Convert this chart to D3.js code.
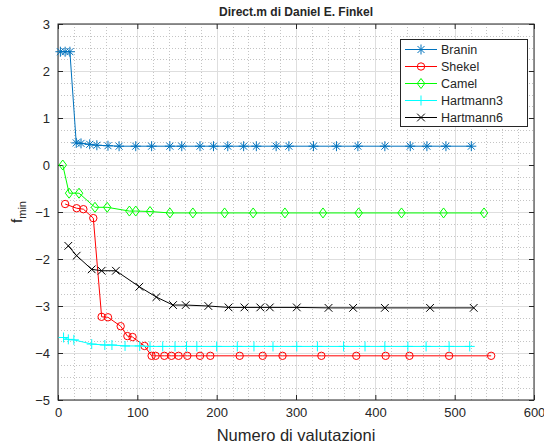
<!DOCTYPE html>
<html>
<head>
<meta charset="utf-8">
<script src="https://cdn.jsdelivr.net/npm/d3@7"></script>
<style>
  body { margin: 0; background: #fff; }
  text { font-family: "Liberation Sans", Arial, Helvetica, sans-serif; fill: #262626; }
</style>
</head>
<body>
<div id="chart"></div>
<script>
// data (best value found vs number of evaluations)
var braninX = [3, 9, 15, 23, 29, 40, 49, 63, 77, 98, 118, 141, 156, 179, 196, 214, 234, 250, 275, 291, 322, 351, 378, 412, 444, 465, 489, 521];
var braninY = [2.41, 2.41, 2.41, 0.47, 0.46, 0.44, 0.42, 0.41, 0.40, 0.40, 0.40, 0.40, 0.40, 0.40, 0.40, 0.40, 0.40, 0.40, 0.40, 0.40, 0.40, 0.40, 0.40, 0.40, 0.40, 0.40, 0.40, 0.40];

var shekelX = [9, 23.5, 32, 44.5, 55, 63, 79, 87.5, 94, 109, 118, 123, 134, 143, 152, 163, 179, 192, 229, 258, 283, 332, 376, 413, 443, 493, 546];
var shekelY = [-0.83, -0.92, -0.94, -1.13, -3.23, -3.24, -3.43, -3.64, -3.66, -3.85, -4.06, -4.06, -4.06, -4.06, -4.06, -4.06, -4.06, -4.06, -4.06, -4.06, -4.06, -4.06, -4.06, -4.06, -4.06, -4.06, -4.06];

var camelX = [6, 14, 26.5, 46.6, 62, 90, 98, 116, 141, 170, 210, 246, 286, 334, 379, 433, 486, 537];
var camelY = [0.0, -0.60, -0.60, -0.90, -0.90, -0.98, -0.98, -0.99, -1.02, -1.02, -1.02, -1.02, -1.02, -1.02, -1.02, -1.02, -1.02, -1.02];

var hart3X = [7, 13, 20, 42.5, 59, 68, 84.5, 103, 116, 132, 147.5, 162, 175, 200, 226, 247, 271, 301, 327, 360, 387, 412, 441, 464, 493, 519];
var hart3Y = [-3.67, -3.71, -3.72, -3.81, -3.83, -3.83, -3.85, -3.85, -3.86, -3.86, -3.86, -3.86, -3.86, -3.86, -3.86, -3.86, -3.86, -3.86, -3.86, -3.86, -3.86, -3.86, -3.86, -3.86, -3.86, -3.86];

var hart6X = [13, 23.5, 42.5, 55, 73, 102.5, 124, 145, 161, 189.5, 215, 235, 255, 267, 301, 341, 372, 412, 469, 524];
var hart6Y = [-1.72, -1.93, -2.22, -2.25, -2.25, -2.59, -2.81, -2.98, -2.98, -3.00, -3.03, -3.03, -3.03, -3.03, -3.03, -3.04, -3.04, -3.04, -3.04, -3.04];

var seriesNames = ["Branin", "Shekel", "Camel", "Hartmann3", "Hartmann6"];
var xTicks = [0, 100, 200, 300, 400, 500, 600];
var yTicks = [-5, -4, -3, -2, -1, 0, 1, 2, 3];

var width = 544;
var height = 448;

// plot box (names avoid window.top etc.)
var boxLeft = 58, boxRight = 534, boxTop = 24, boxBottom = 400;

var svg = d3.select("#chart")
  .append("svg")
  .attr("width", width)
  .attr("height", height);

var xScale = d3.scaleLinear().domain([0, 600]).range([boxLeft, boxRight]);
var yScale = d3.scaleLinear().domain([-5, 3]).range([boxBottom, boxTop]);

// minor grid (dotted)
var minorX = d3.range(20, 600, 20).filter(function(v) { return v % 100 !== 0; });
var minorY = d3.range(-5, 3, 0.25).filter(function(v) { return v % 1 !== 0; });

var grid = svg.append("g").attr("class", "grid");
grid.selectAll("line.mx").data(minorX).enter().append("line")
  .attr("x1", function(d) { return Math.round(xScale(d)) + 0.5; })
  .attr("x2", function(d) { return Math.round(xScale(d)) + 0.5; })
  .attr("y1", boxTop).attr("y2", boxBottom)
  .attr("stroke", "#c4c4c4").attr("stroke-dasharray", "1,2");
grid.selectAll("line.my").data(minorY).enter().append("line")
  .attr("y1", function(d) { return Math.round(yScale(d)) + 0.5; })
  .attr("y2", function(d) { return Math.round(yScale(d)) + 0.5; })
  .attr("x1", boxLeft).attr("x2", boxRight)
  .attr("stroke", "#c4c4c4").attr("stroke-dasharray", "1,2");

// major grid
grid.selectAll("line.gx").data(xTicks).enter().append("line")
  .attr("x1", function(d) { return Math.round(xScale(d)) + 0.5; })
  .attr("x2", function(d) { return Math.round(xScale(d)) + 0.5; })
  .attr("y1", boxTop).attr("y2", boxBottom)
  .attr("stroke", "#dedede");
grid.selectAll("line.gy").data(yTicks).enter().append("line")
  .attr("y1", function(d) { return Math.round(yScale(d)) + 0.5; })
  .attr("y2", function(d) { return Math.round(yScale(d)) + 0.5; })
  .attr("x1", boxLeft).attr("x2", boxRight)
  .attr("stroke", "#dedede");

// axes (ticks inside, on all four sides)
var xAxis = d3.axisBottom(xScale).tickValues(xTicks).tickSize(-5).tickPadding(8);
var yAxis = d3.axisLeft(yScale).tickValues(yTicks).tickSize(-5).tickPadding(8);

function styleAxis(g) {
  g.select(".domain").remove();
  g.selectAll("line").attr("stroke", "#262626");
  g.selectAll("text").attr("font-size", "13px").attr("fill", "#262626")
    .style("font-family", "'Liberation Sans', Arial, sans-serif");
}

svg.append("g")
  .attr("transform", "translate(0," + boxBottom + ")")
  .call(xAxis).call(styleAxis);
svg.append("g")
  .attr("transform", "translate(" + boxLeft + ",0)")
  .call(yAxis).call(styleAxis);
svg.append("g")
  .attr("transform", "translate(0," + boxTop + ")")
  .call(d3.axisTop(xScale).tickValues(xTicks).tickSize(-5).tickFormat(""))
  .call(styleAxis);
svg.append("g")
  .attr("transform", "translate(" + boxRight + ",0)")
  .call(d3.axisRight(yScale).tickValues(yTicks).tickSize(-5).tickFormat(""))
  .call(styleAxis);

// box
svg.append("rect")
  .attr("x", boxLeft).attr("y", boxTop)
  .attr("width", boxRight - boxLeft).attr("height", boxBottom - boxTop)
  .attr("fill", "none").attr("stroke", "#262626").attr("stroke-width", 1);

// marker shapes
function markerPath(kind, s) {
  var d = s * 0.7;
  if (kind === "star") {
    return "M" + (-s) + ",0L" + s + ",0M0," + (-s) + "L0," + s +
      "M" + (-d) + "," + (-d) + "L" + d + "," + d + "M" + (-d) + "," + d + "L" + d + "," + (-d);
  }
  if (kind === "plus") {
    return "M" + (-s) + ",0L" + s + ",0M0," + (-s) + "L0," + s;
  }
  if (kind === "x") {
    return "M" + (-d) + "," + (-d) + "L" + d + "," + d + "M" + (-d) + "," + d + "L" + d + "," + (-d);
  }
  if (kind === "diamond") {
    return "M0," + (-s) + "L" + (s * 0.75) + ",0L0," + s + "L" + (-s * 0.75) + ",0Z";
  }
  return "";
}

var series = [
  { name: seriesNames[0], xs: braninX, ys: braninY, color: "#0072BD", marker: "star", size: 5 },
  { name: seriesNames[1], xs: shekelX, ys: shekelY, color: "#FF0000", marker: "circle", size: 3.7 },
  { name: seriesNames[2], xs: camelX, ys: camelY, color: "#00FF00", marker: "diamond", size: 5 },
  { name: seriesNames[3], xs: hart3X, ys: hart3Y, color: "#00FFFF", marker: "plus", size: 5 },
  { name: seriesNames[4], xs: hart6X, ys: hart6Y, color: "#000000", marker: "x", size: 5.5 }
];

var line = d3.line()
  .x(function(d) { return xScale(d[0]); })
  .y(function(d) { return yScale(d[1]); });

function drawMarker(g, s, cx, cy) {
  if (s.marker === "circle") {
    g.append("circle").attr("cx", cx).attr("cy", cy).attr("r", s.size)
      .attr("fill", "none").attr("stroke", s.color);
  } else {
    g.append("path").attr("transform", "translate(" + cx + "," + cy + ")")
      .attr("d", markerPath(s.marker, s.size))
      .attr("fill", "none").attr("stroke", s.color);
  }
}

series.forEach(function(s) {
  var pts = s.xs.map(function(x, i) { return [x, s.ys[i]]; });
  var g = svg.append("g").attr("class", "series");
  g.append("path").datum(pts)
    .attr("d", line)
    .attr("fill", "none")
    .attr("stroke", s.color)
    .attr("stroke-width", 1);
  pts.forEach(function(p) {
    drawMarker(g, s, xScale(p[0]), yScale(p[1]));
  });
});

// legend
var legend = svg.append("g").attr("class", "legend");
legend.append("rect")
  .attr("x", 400.5).attr("y", 39.5)
  .attr("width", 127).attr("height", 87)
  .attr("fill", "#fff").attr("stroke", "#262626");
series.forEach(function(s, i) {
  var ly = 49.5 + i * 17;
  var g = legend.append("g");
  g.append("line").attr("x1", 405).attr("x2", 437).attr("y1", ly).attr("y2", ly)
    .attr("stroke", s.color);
  drawMarker(g, s, 421, ly);
  g.append("text").attr("x", 441).attr("y", ly + 4.5)
    .attr("font-size", "12.5px").text(s.name);
});

// title and labels
svg.append("text")
  .attr("x", (boxLeft + boxRight) / 2).attr("y", 16)
  .attr("text-anchor", "middle")
  .attr("font-size", "12px").attr("font-weight", "bold")
  .attr("fill", "#000")
  .text("Direct.m di Daniel E. Finkel");

svg.append("text")
  .attr("x", (boxLeft + boxRight) / 2).attr("y", 441)
  .attr("text-anchor", "middle")
  .attr("font-size", "16.5px")
  .text("Numero di valutazioni");

var yl = svg.append("text")
  .attr("transform", "translate(22," + ((boxTop + boxBottom) / 2) + ")rotate(-90)")
  .attr("text-anchor", "middle")
  .attr("font-size", "15px");
yl.append("tspan").text("f");
yl.append("tspan").attr("dy", 4).attr("font-size", "11px").text("min");
</script>
</body>
</html>
